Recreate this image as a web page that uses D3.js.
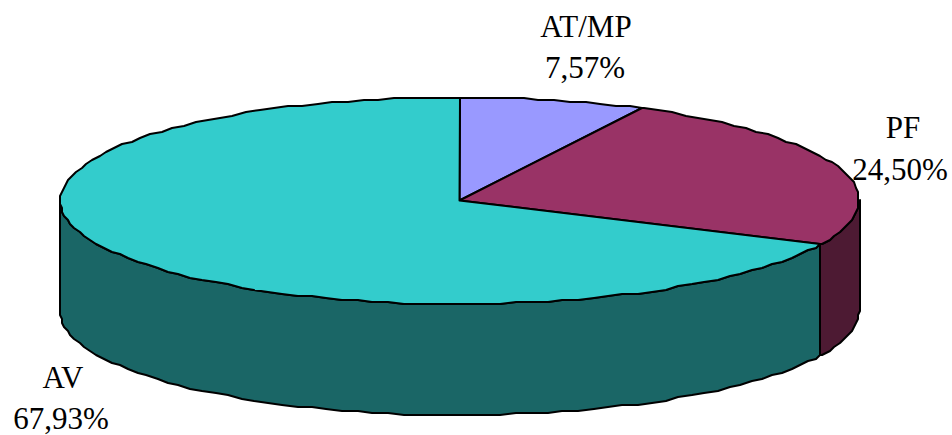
<!DOCTYPE html>
<html>
<head>
<meta charset="utf-8">
<script src="https://cdn.jsdelivr.net/npm/d3@7"></script>
<style>
  html, body { margin: 0; padding: 0; background: #fff; }
  svg { display: block; }
  text { font-family: "Liberation Serif", serif; font-size: 31px; fill: #000; text-anchor: middle; }
</style>
</head>
<body>
<div id="chart"></div>
<script>
var categories = ['AT/MP', 'PF', 'AV'];
var shares = [7.57, 24.50, 67.93];
var shareLabels = ['7,57%', '24,50%', '67,93%'];
var topColors = ['#9999ff', '#993366', '#33cccc'];
var sideColors = ['#4d4d80', '#4d1a33', '#1a6666'];

var width = 952, height = 435;
var depth = 111;

var svg = d3.select('#chart').append('svg')
  .attr('width', width)
  .attr('height', height);

// unit circle projected on the flattened pie top
var xScale = d3.scaleLinear().domain([-1, 1]).range([60, 859]);
var yScale = d3.scaleLinear().domain([-1, 1]).range([97, 304]);

var pie = d3.pie().sort(null).value(function (d) { return d; });
var slices = pie(shares);

var snap = function (v) { return Math.round(v / 2) * 2; };
var step = 0.04;

// same angle grid for every outline so walls and tops share their rim
var rim = function (a0, a1) {
  var angles = [a0].concat(d3.range(Math.ceil(a0 / step), Math.floor(a1 / step) + 1).map(function (k) {
    return k * step;
  }), [a1]);
  return angles.map(function (a) {
    return [snap(xScale(Math.sin(a))), snap(yScale(-Math.cos(a)))];
  });
};

var line = d3.line();

var drawn = slices.map(function (d, i) {
  return { slice: d, i: i };
});

// side walls, only the part facing the viewer (angles between 90 and 270 deg)
var walls = svg.append('g')
  .attr('stroke', '#000')
  .attr('stroke-width', 2)
  .attr('stroke-linejoin', 'round');

drawn.forEach(function (d) {
  var a0 = Math.max(d.slice.startAngle, Math.PI / 2);
  var a1 = Math.min(d.slice.endAngle, Math.PI * 1.5);
  if (a1 <= a0) return;
  var front = rim(a0, a1);
  var back = front.map(function (p) { return [p[0], p[1] + depth]; }).reverse();
  walls.append('path')
    .attr('d', line(front.concat(back)) + 'Z')
    .attr('fill', sideColors[d.i]);
});

// top faces
var tops = svg.append('g')
  .attr('stroke', '#000')
  .attr('stroke-width', 2)
  .attr('stroke-linejoin', 'round');

tops.selectAll('path')
  .data(drawn)
  .join('path')
  .attr('fill', function (d) { return topColors[d.i]; })
  .attr('d', function (d) {
    var pts = rim(d.slice.startAngle, d.slice.endAngle);
    pts.push([xScale(0), yScale(0)]);
    return line(pts) + 'Z';
  });

// labels
var nameX = [586, 903, 63], nameY = [37, 138, 388];
var shareX = [585, 900, 61], shareY = [78, 180, 429];
var labels = svg.append('g');
categories.forEach(function (c, i) {
  labels.append('text').attr('x', nameX[i]).attr('y', nameY[i]).text(c);
  labels.append('text').attr('x', shareX[i]).attr('y', shareY[i]).text(shareLabels[i]);
});
</script>
</body>
</html>
